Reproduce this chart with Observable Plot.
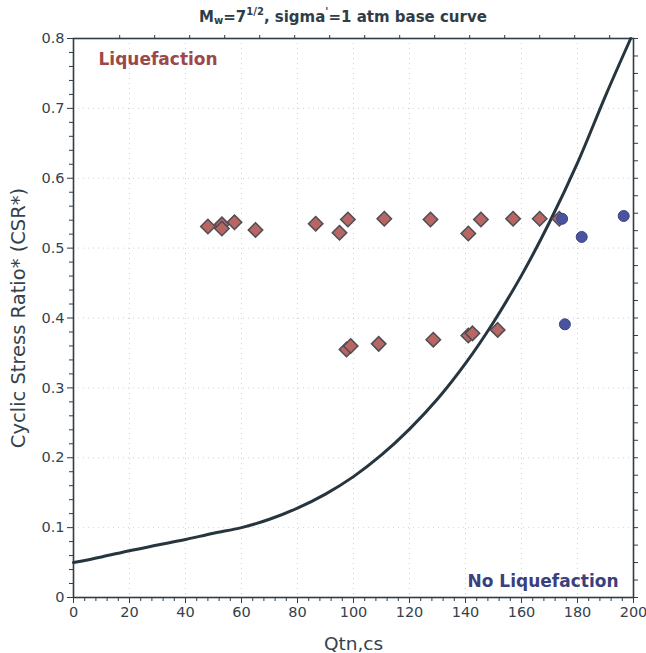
<!DOCTYPE html>
<html>
<head>
<meta charset="utf-8">
<script src="https://cdn.jsdelivr.net/npm/d3@7"></script>
<script src="https://cdn.jsdelivr.net/npm/@observablehq/plot@0.6"></script>
<style>
  body { margin: 0; background: white; width: 646px; height: 653px; overflow: hidden; }
  #title { height: 30px; line-height: 34px; text-align: center; font-family: "DejaVu Sans", sans-serif;
           font-weight: bold; font-size: 15px; color: #2f3d47; padding-left: 40px; box-sizing: border-box; }
  #title sub { font-size: 10px; vertical-align: -2px; line-height: 0; }
  #title sup { font-size: 10px; vertical-align: 7px; line-height: 0; }
</style>
</head>
<body>
<div id="title">M<sub>w</sub>=7<sup>1/2</sup>, sigma<sup>'</sup>=1 atm base curve</div>
<div id="chart"></div>
<script>
// Liquefaction cases (red diamonds): Qtn,cs and CSR*
const liqQ   = [48, 53, 53, 57.5, 65, 86.5, 95, 98, 111, 127.5, 141, 145.5, 157, 166.5, 173.5,
                97.5, 99, 109, 128.5, 141, 142.5, 151.5];
const liqCSR = [0.531, 0.534, 0.528, 0.537, 0.526, 0.535, 0.522, 0.541, 0.542, 0.541, 0.521, 0.541, 0.542, 0.542, 0.542,
                0.355, 0.360, 0.363, 0.369, 0.375, 0.378, 0.383];
// No-liquefaction cases (blue circles)
const noLiqQ   = [174.5, 181.5, 175.5, 196.5];
const noLiqCSR = [0.542, 0.516, 0.391, 0.546];
// Base curve
const curveQ   = [0, 10, 20, 30, 40, 50, 60, 70, 80, 90, 100, 110, 120, 130, 140, 150, 160, 170, 180, 190, 199];
const curveCSR = [0.050, 0.058, 0.067, 0.075, 0.083, 0.092, 0.100, 0.112, 0.128, 0.148, 0.173, 0.204, 0.241, 0.284,
                  0.335, 0.394, 0.461, 0.537, 0.622, 0.718, 0.800];
// Ticks
const xMajor = [0, 20, 40, 60, 80, 100, 120, 140, 160, 180, 200];
const xMinor = d3.range(0, 201, 4).filter(v => v % 20 !== 0);
const yMajor = [0, 0.1, 0.2, 0.3, 0.4, 0.5, 0.6, 0.7, 0.8];
const yMinor = d3.range(0, 81, 2).filter(v => v % 10 !== 0).map(v => v / 100);
const xTop   = [16.5, 29, 41.5, 54, 66.5, 79, 91.5, 104, 116.5, 129, 141.5, 154, 166.5, 179, 191.5];
const yRight = d3.range(0, 33).map(v => v * 0.025);

const liq = liqQ.map((q, i) => ({q, csr: liqCSR[i]}));
const noLiq = noLiqQ.map((q, i) => ({q, csr: noLiqCSR[i]}));
const curve = curveQ.map((q, i) => ({q, csr: curveCSR[i]}));

const ink = "#2f3d47";
const chart = Plot.plot({
  width: 646, height: 623,
  marginTop: 8, marginLeft: 73, marginRight: 13, marginBottom: 56,
  x: {domain: [0, 200]},
  y: {domain: [0, 0.8]},
  style: {fontFamily: "DejaVu Sans, sans-serif", fontSize: "14px", color: "#34424c", background: "white"},
  marks: [
    Plot.gridX(xMajor.slice(1, -1), {stroke: "#9aa6b0", strokeOpacity: 0.5, strokeDasharray: "1,4"}),
    Plot.gridY(yMajor.slice(1, -1), {stroke: "#9aa6b0", strokeOpacity: 0.5, strokeDasharray: "1,4"}),
    Plot.axisX({ticks: xMajor, tickSize: 6, tickPadding: 3, stroke: ink, fontSize: 14.5, label: null}),
    Plot.axisX({ticks: [], label: "Qtn,cs", labelAnchor: "center", labelOffset: 52, labelArrow: "none", fontSize: 18.5}),
    Plot.axisX({ticks: xMinor, tickSize: 4, tickFormat: () => "", stroke: ink, label: null}),
    Plot.axisX({anchor: "top", ticks: xTop, tickSize: 4, tickFormat: () => "", stroke: ink, label: null}),
    Plot.axisY({ticks: yMajor, tickSize: 6, tickPadding: 3, stroke: ink, fontSize: 14.5, label: null,
                tickFormat: d => d === 0 ? "0" : d3.format(".1f")(d)}),
    Plot.axisY({ticks: [], label: "Cyclic Stress Ratio* (CSR*)", labelAnchor: "center", labelOffset: 62,
                labelArrow: "none", fontSize: 19.5}),
    Plot.axisY({ticks: yMinor, tickSize: 4, tickFormat: () => "", stroke: ink, label: null}),
    Plot.axisY({anchor: "right", ticks: yRight, tickSize: 4, tickFormat: () => "", stroke: ink, label: null}),
    Plot.frame({stroke: ink, strokeWidth: 1.6}),
    Plot.line(curve, {x: "q", y: "csr", curve: "catmull-rom", stroke: "#27353f", strokeWidth: 3}),
    Plot.dot(liq, {x: "q", y: "csr", symbol: "diamond2", r: 6.5, fill: "#b86664", stroke: "#4d4d55", strokeWidth: 1.5}),
    Plot.dot(noLiq, {x: "q", y: "csr", r: 5.5, fill: "#4a549e", stroke: "#3c4385", strokeWidth: 1}),
    Plot.text(["Liquefaction"], {frameAnchor: "top-left", lineAnchor: "middle", dx: 25, dy: 21, textAnchor: "start",
              fontWeight: "bold", fontSize: 17, fill: "#9c4848"}),
    Plot.text(["No Liquefaction"], {frameAnchor: "bottom-right", lineAnchor: "middle", dx: -15, dy: -16, textAnchor: "end",
              fontWeight: "bold", fontSize: 17, fill: "#3b3f7d"})
  ]
});
document.getElementById("chart").appendChild(chart);
</script>
</body>
</html>
